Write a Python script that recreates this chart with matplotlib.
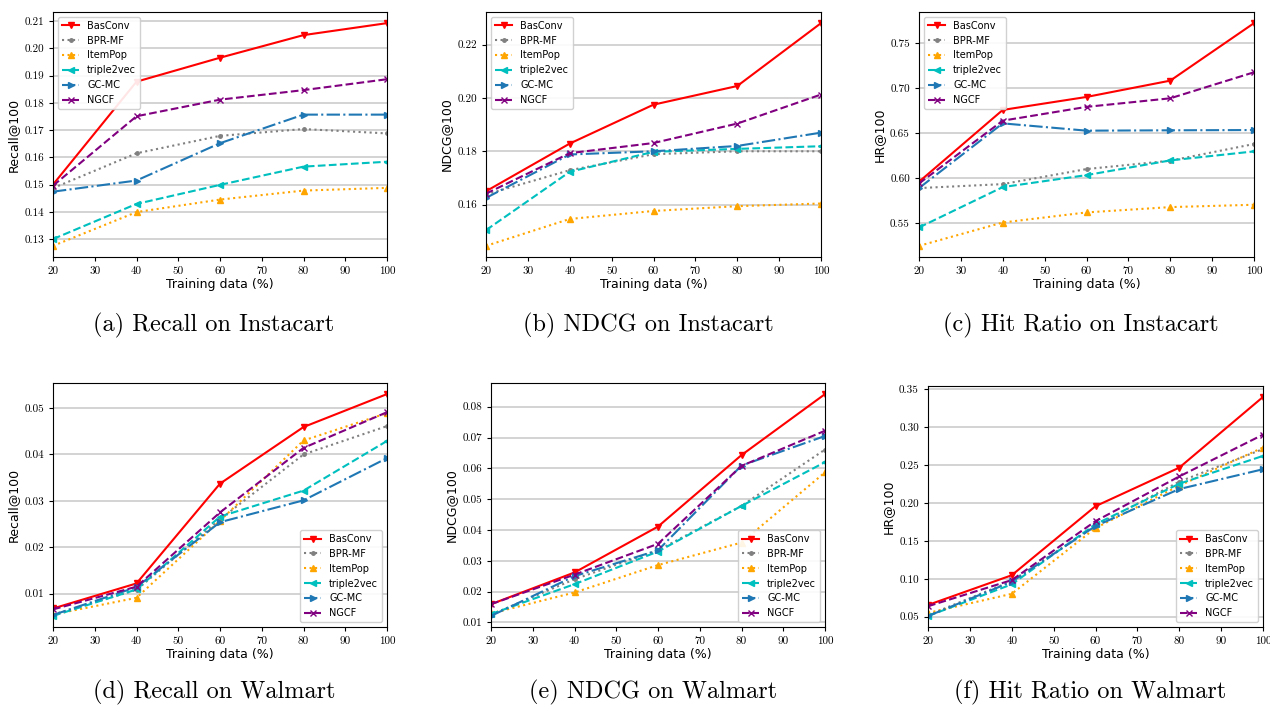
import numpy as np
import matplotlib
matplotlib.use('Agg')
import matplotlib.pyplot as plt

# x values (training data %)
train_pct = [20, 40, 60, 80, 100]
methods = ['BasConv', 'BPR-MF', 'ItemPop', 'triple2vec', 'GC-MC', 'NGCF']

# (a) Recall@100 on Instacart
recall_insta = {
    'BasConv':    [0.1500, 0.1878, 0.1966, 0.2049, 0.2093],
    'BPR-MF':     [0.1487, 0.1615, 0.1679, 0.1704, 0.1688],
    'ItemPop':    [0.1275, 0.1399, 0.1445, 0.1478, 0.1488],
    'triple2vec': [0.1300, 0.1429, 0.1499, 0.1566, 0.1584],
    'GC-MC':      [0.1474, 0.1515, 0.1652, 0.1757, 0.1757],
    'NGCF':       [0.1496, 0.1751, 0.1812, 0.1847, 0.1887],
}
# (b) NDCG@100 on Instacart
ndcg_insta = {
    'BasConv':    [0.1650, 0.1829, 0.1975, 0.2045, 0.2281],
    'BPR-MF':     [0.1638, 0.1729, 0.1789, 0.1800, 0.1800],
    'ItemPop':    [0.1445, 0.1546, 0.1576, 0.1594, 0.1604],
    'triple2vec': [0.1504, 0.1723, 0.1798, 0.1809, 0.1819],
    'GC-MC':      [0.1625, 0.1788, 0.1800, 0.1820, 0.1870],
    'NGCF':       [0.1641, 0.1793, 0.1831, 0.1904, 0.2013],
}
# (c) HR@100 on Instacart
hr_insta = {
    'BasConv':    [0.5959, 0.6756, 0.6900, 0.7081, 0.7719],
    'BPR-MF':     [0.5889, 0.5933, 0.6100, 0.6193, 0.6378],
    'ItemPop':    [0.5248, 0.5507, 0.5619, 0.5678, 0.5704],
    'triple2vec': [0.5452, 0.5900, 0.6033, 0.6196, 0.6296],
    'GC-MC':      [0.5889, 0.6607, 0.6526, 0.6530, 0.6533],
    'NGCF':       [0.5940, 0.6637, 0.6790, 0.6885, 0.7174],
}
# (d) Recall@100 on Walmart
recall_walm = {
    'BasConv':    [0.0068, 0.0122, 0.0337, 0.0459, 0.0530],
    'BPR-MF':     [0.0055, 0.0108, 0.0260, 0.0400, 0.0461],
    'ItemPop':    [0.0055, 0.0091, 0.0257, 0.0430, 0.0489],
    'triple2vec': [0.0052, 0.0109, 0.0266, 0.0322, 0.0429],
    'GC-MC':      [0.0054, 0.0114, 0.0254, 0.0301, 0.0392],
    'NGCF':       [0.0066, 0.0115, 0.0275, 0.0414, 0.0491],
}
# (e) NDCG@100 on Walmart
ndcg_walm = {
    'BasConv':    [0.0159, 0.0262, 0.0411, 0.0643, 0.0841],
    'BPR-MF':     [0.0125, 0.0240, 0.0334, 0.0478, 0.0661],
    'ItemPop':    [0.0129, 0.0197, 0.0286, 0.0359, 0.0587],
    'triple2vec': [0.0127, 0.0224, 0.0330, 0.0478, 0.0620],
    'GC-MC':      [0.0121, 0.0250, 0.0334, 0.0609, 0.0705],
    'NGCF':       [0.0159, 0.0255, 0.0355, 0.0608, 0.0722],
}
# (f) HR@100 on Walmart
hr_walm = {
    'BasConv':    [0.0655, 0.1047, 0.1957, 0.2465, 0.3397],
    'BPR-MF':     [0.0520, 0.0970, 0.1700, 0.2280, 0.2710],
    'ItemPop':    [0.0550, 0.0802, 0.1669, 0.2227, 0.2730],
    'triple2vec': [0.0509, 0.0927, 0.1720, 0.2253, 0.2620],
    'GC-MC':      [0.0509, 0.0961, 0.1695, 0.2183, 0.2444],
    'NGCF':       [0.0638, 0.0983, 0.1760, 0.2349, 0.2900],
}

styles = {
    'BasConv':    dict(color='red', linestyle='-', marker='v'),
    'BPR-MF':     dict(color='grey', linestyle=':', marker='.'),
    'ItemPop':    dict(color='orange', linestyle=':', marker='^'),
    'triple2vec': dict(color='c', linestyle='--', marker='<'),
    'GC-MC':      dict(color='tab:blue', linestyle='-.', marker='>'),
    'NGCF':       dict(color='purple', linestyle='--', marker='x'),
}

W, H = 1270, 710
fig = plt.figure(figsize=(W / 100, H / 100), dpi=100)


def rect(left, top, right, bottom):
    return [left / W, 1 - bottom / H, (right - left) / W, (bottom - top) / H]


panels = [
    (recall_insta, 'Recall@100', rect(53, 12, 387, 257), 'upper left', '(a) Recall on Instacart', 214, 325),
    (ndcg_insta, 'NDCG@100', rect(486, 12, 821, 257), 'upper left', '(b) NDCG on Instacart', 648, 325),
    (hr_insta, 'HR@100', rect(919, 12, 1254, 257), 'upper left', '(c) Hit Ratio on Instacart', 1081, 325),
    (recall_walm, 'Recall@100', rect(53, 383, 387, 627), 'lower right', '(d) Recall on Walmart', 214, 692),
    (ndcg_walm, 'NDCG@100', rect(491, 383, 825, 627), 'lower right', '(e) NDCG on Walmart', 653, 692),
    (hr_walm, 'HR@100', rect(928, 386, 1263, 627), 'lower right', '(f) Hit Ratio on Walmart', 1090, 692),
]

for data, ylabel, pos, loc, caption, cx, cy in panels:
    ax = fig.add_axes(pos)
    ax.grid(axis='y', color='0.78', linewidth=1.1, zorder=0)
    ax.set_axisbelow(True)
    for m in methods:
        ax.plot(train_pct, data[m], label=m, linewidth=1.5, markersize=5, **styles[m])
    ax.set_xlim(20, 100)
    ax.set_xticks(np.arange(20, 101, 10))
    ax.tick_params(labelsize=8, labelfontfamily='cmr10', length=3)
    ax.set_xlabel('Training data (%)', fontsize=9, labelpad=2)
    ax.set_ylabel(ylabel, fontsize=9, labelpad=3)
    ax.legend(loc=loc, fontsize=7, framealpha=0.9, handlelength=1.8)
    fig.text(cx / W, 1 - cy / H, caption, ha='center', va='center',
             fontfamily='cmr10', fontsize=17.5)

plt.savefig('out.png', dpi=100)
